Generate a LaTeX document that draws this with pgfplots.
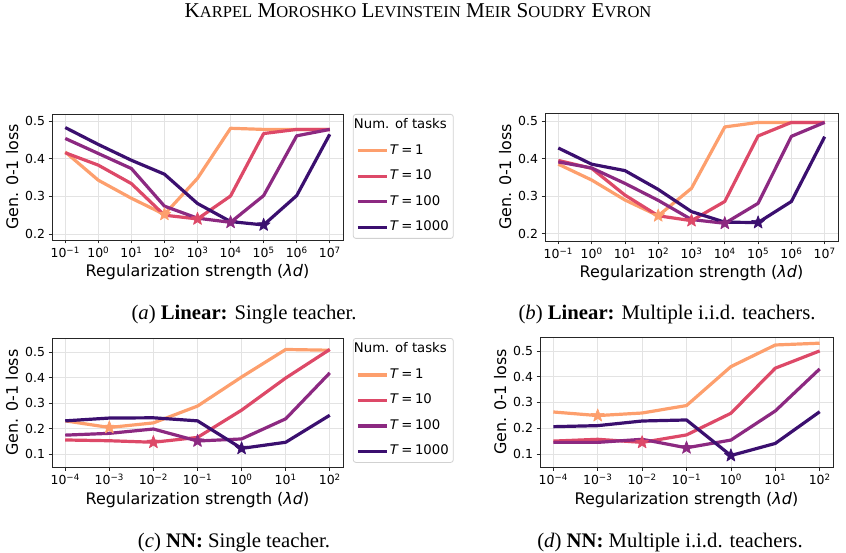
\documentclass[border=0pt]{standalone}
\usepackage{fontspec}
\setmainfont{DejaVu Sans}
\newfontfamily\capfont{Liberation Serif}
\usepackage{pgfplots}
\usepackage{pgfplotstable}
\pgfplotsset{compat=1.18}

% magma palette, light to dark
\definecolor{mT1}{RGB}{253,159,109}
\definecolor{mT10}{RGB}{221,73,104}
\definecolor{mT100}{RGB}{140,41,129}
\definecolor{mT1000}{RGB}{59,15,111}

% filled five-pointed star marking the best regularization strength
\pgfdeclareplotmark{fstar}{%
  \pgfpathmoveto{\pgfpointpolar{90}{\pgfplotmarksize}}%
  \pgfpathlineto{\pgfpointpolar{126}{0.42\pgfplotmarksize}}%
  \pgfpathlineto{\pgfpointpolar{162}{\pgfplotmarksize}}%
  \pgfpathlineto{\pgfpointpolar{198}{0.42\pgfplotmarksize}}%
  \pgfpathlineto{\pgfpointpolar{234}{\pgfplotmarksize}}%
  \pgfpathlineto{\pgfpointpolar{270}{0.42\pgfplotmarksize}}%
  \pgfpathlineto{\pgfpointpolar{306}{\pgfplotmarksize}}%
  \pgfpathlineto{\pgfpointpolar{342}{0.42\pgfplotmarksize}}%
  \pgfpathlineto{\pgfpointpolar{18}{\pgfplotmarksize}}%
  \pgfpathlineto{\pgfpointpolar{54}{0.42\pgfplotmarksize}}%
  \pgfpathclose
  \pgfusepathqfillstroke
}

% Linear, single teacher
\pgfplotstableread{
x    t1    t10   t100  t1000
1e-1 0.418 0.416 0.454 0.483
1e0  0.343 0.383 0.414 0.438
1e1  0.295 0.334 0.374 0.396
1e2  0.252 0.250 0.274 0.359
1e3  0.348 0.240 0.242 0.281
1e4  0.481 0.301 0.231 0.233
1e5  0.478 0.467 0.302 0.224
1e6  0.478 0.478 0.461 0.302
1e7  0.478 0.478 0.478 0.465
}\tabA
% Linear, multiple i.i.d. teachers
\pgfplotstableread{
x    t1    t10   t100  t1000
1e-1 0.385 0.395 0.391 0.428
1e0  0.343 0.374 0.375 0.385
1e1  0.290 0.303 0.334 0.368
1e2  0.248 0.248 0.289 0.318
1e3  0.321 0.235 0.238 0.259
1e4  0.484 0.286 0.228 0.231
1e5  0.496 0.460 0.281 0.230
1e6  0.496 0.496 0.459 0.286
1e7  0.496 0.496 0.496 0.458
}\tabB
% NN, single teacher
\pgfplotstableread{
x    t1    t10   t100  t1000
1e-4 0.230 0.155 0.174 0.230
1e-3 0.204 0.152 0.181 0.241
1e-2 0.222 0.146 0.198 0.242
1e-1 0.288 0.165 0.151 0.230
1e0  0.402 0.272 0.159 0.122
1e1  0.510 0.398 0.238 0.146
1e2  0.507 0.510 0.418 0.252
}\tabC
% NN, multiple i.i.d. teachers
\pgfplotstableread{
x    t1    t10   t100  t1000
1e-4 0.263 0.150 0.145 0.206
1e-3 0.249 0.157 0.145 0.210
1e-2 0.259 0.145 0.157 0.228
1e-1 0.288 0.174 0.124 0.232
1e0  0.439 0.258 0.154 0.094
1e1  0.523 0.433 0.267 0.141
1e2  0.530 0.500 0.430 0.264
}\tabD

% shared look of the four panels
\pgfplotsset{
  every axis/.append style={
    scale only axis,
    grid=major,
    major grid style={draw=black!11, line width=0.8bp},
    axis line style={draw=black!85, line width=0.9bp},
    tick align=outside, xtick pos=lower, ytick pos=left,
    major tick length=3.5bp,
    tick style={draw=black!85, line width=0.8bp},
    tick label style={font=\fontsize{12.5}{14}\selectfont},
    label style={font=\fontsize{16}{19}\selectfont},
    xlabel style={at={([yshift=-37bp]axis description cs:0.5,0)}, anchor=base},
    ylabel style={at={([xshift=-34bp]axis description cs:0,0.5)}, anchor=base},
    legend style={
      at={(1.034,1)}, anchor=north west,
      draw=black!18, rounded corners=2.5bp, line width=0.8bp,
      font=\fontsize{13.3}{15}\selectfont,
      inner sep=3bp, row sep=9.5bp,
      nodes={inner sep=1.5bp, text height=10bp, text depth=3bp},
    },
    legend cell align=left,
  },
  every axis plot/.append style={line width=3.2bp, line join=round},
  legend image code/.code={\draw[#1, line width=3.2bp] (0bp,0bp) -- (29bp,0bp);},
}

\newcommand\hsc[2]{#1{\fontsize{16.6}{18}\selectfont #2}}
\newcommand\Tent[1]{\textit{T}\kern2.5bp=\kern2.5bp#1}

\begin{document}
\begin{tikzpicture}
\useasboundingbox (0bp,0bp) rectangle (846bp,553bp);

% running head
\node[anchor=base, font=\capfont\fontsize{21.2}{24}\selectfont] at (418bp,535bp)
  {\hsc{K}{ARPEL} \hsc{M}{OROSHKO} \hsc{L}{EVINSTEIN} \hsc{M}{EIR} \hsc{S}{OUDRY} \hsc{E}{VRON}};

% (a) linear model, single teacher
\begin{axis}[at={(52bp,313bp)}, anchor=south west,
  width=291bp, height=126bp,
  xmode=log, xminorticks=false,
  xmin=0.0398, xmax=2.512e7, ymin=0.184, ymax=0.519,
  xtick={1e-1,1e0,1e1,1e2,1e3,1e4,1e5,1e6,1e7},
  xticklabels={10\textsuperscript{−1},10\textsuperscript{0},10\textsuperscript{1},10\textsuperscript{2},10\textsuperscript{3},10\textsuperscript{4},10\textsuperscript{5},10\textsuperscript{6},10\textsuperscript{7}},
  ytick={0.2,0.3,0.4,0.5}, yticklabels={0.2,0.3,0.4,0.5},
  xlabel={Regularization strength (\textit{λd})}, ylabel={Gen. 0-1 loss}]
  \addlegendimage{empty legend}
  \addlegendentry{\hspace*{-36bp}Num. of tasks}
  \addplot[mT1] table[x=x,y=t1]{\tabA};       \addlegendentry{\Tent{1}}
  \addplot[mT10] table[x=x,y=t10]{\tabA};     \addlegendentry{\Tent{10}}
  \addplot[mT100] table[x=x,y=t100]{\tabA};   \addlegendentry{\Tent{100}}
  \addplot[mT1000] table[x=x,y=t1000]{\tabA}; \addlegendentry{\Tent{1000}}
  \addplot[forget plot, only marks, mark=fstar, mark size=6.8bp, mT1, mark options={line width=0.6bp}] coordinates {(1e2,0.252)};
  \addplot[forget plot, only marks, mark=fstar, mark size=6.8bp, mT10, mark options={line width=0.6bp}] coordinates {(1e3,0.240)};
  \addplot[forget plot, only marks, mark=fstar, mark size=6.8bp, mT100, mark options={line width=0.6bp}] coordinates {(1e4,0.231)};
  \addplot[forget plot, only marks, mark=fstar, mark size=6.8bp, mT1000, mark options={line width=0.6bp}] coordinates {(1e5,0.224)};
\end{axis}

% (b) linear model, multiple i.i.d. teachers
\begin{axis}[at={(545bp,312bp)}, anchor=south west,
  width=293bp, height=128bp,
  xmode=log, xminorticks=false,
  xmin=0.0398, xmax=2.512e7, ymin=0.181, ymax=0.521,
  xtick={1e-1,1e0,1e1,1e2,1e3,1e4,1e5,1e6,1e7},
  xticklabels={10\textsuperscript{−1},10\textsuperscript{0},10\textsuperscript{1},10\textsuperscript{2},10\textsuperscript{3},10\textsuperscript{4},10\textsuperscript{5},10\textsuperscript{6},10\textsuperscript{7}},
  ytick={0.2,0.3,0.4,0.5}, yticklabels={0.2,0.3,0.4,0.5},
  xlabel={Regularization strength (\textit{λd})}, ylabel={Gen. 0-1 loss}]
  \addplot[mT1] table[x=x,y=t1]{\tabB};
  \addplot[mT10] table[x=x,y=t10]{\tabB};
  \addplot[mT100] table[x=x,y=t100]{\tabB};
  \addplot[mT1000] table[x=x,y=t1000]{\tabB};
  \addplot[forget plot, only marks, mark=fstar, mark size=6.8bp, mT1, mark options={line width=0.6bp}] coordinates {(1e2,0.248)};
  \addplot[forget plot, only marks, mark=fstar, mark size=6.8bp, mT10, mark options={line width=0.6bp}] coordinates {(1e3,0.235)};
  \addplot[forget plot, only marks, mark=fstar, mark size=6.8bp, mT100, mark options={line width=0.6bp}] coordinates {(1e4,0.228)};
  \addplot[forget plot, only marks, mark=fstar, mark size=6.8bp, mT1000, mark options={line width=0.6bp}] coordinates {(1e5,0.230)};
\end{axis}

% (c) neural network, single teacher
\begin{axis}[at={(52bp,86bp)}, anchor=south west,
  width=291bp, height=129bp,
  xmode=log, xminorticks=false,
  xmin=5.012e-5, xmax=199.5, ymin=0.049, ymax=0.555,
  xtick={1e-4,1e-3,1e-2,1e-1,1e0,1e1,1e2},
  xticklabels={10\textsuperscript{−4},10\textsuperscript{−3},10\textsuperscript{−2},10\textsuperscript{−1},10\textsuperscript{0},10\textsuperscript{1},10\textsuperscript{2}},
  ytick={0.1,0.2,0.3,0.4,0.5}, yticklabels={0.1,0.2,0.3,0.4,0.5},
  xlabel={Regularization strength (\textit{λd})}, ylabel={Gen. 0-1 loss}]
  \addlegendimage{empty legend}
  \addlegendentry{\hspace*{-36bp}Num. of tasks}
  \addplot[mT1] table[x=x,y=t1]{\tabC};       \addlegendentry{\Tent{1}}
  \addplot[mT10] table[x=x,y=t10]{\tabC};     \addlegendentry{\Tent{10}}
  \addplot[mT100] table[x=x,y=t100]{\tabC};   \addlegendentry{\Tent{100}}
  \addplot[mT1000] table[x=x,y=t1000]{\tabC}; \addlegendentry{\Tent{1000}}
  \addplot[forget plot, only marks, mark=fstar, mark size=6.8bp, mT1, mark options={line width=0.6bp}] coordinates {(1e-3,0.204)};
  \addplot[forget plot, only marks, mark=fstar, mark size=6.8bp, mT10, mark options={line width=0.6bp}] coordinates {(1e-2,0.146)};
  \addplot[forget plot, only marks, mark=fstar, mark size=6.8bp, mT100, mark options={line width=0.6bp}] coordinates {(1e-1,0.151)};
  \addplot[forget plot, only marks, mark=fstar, mark size=6.8bp, mT1000, mark options={line width=0.6bp}] coordinates {(1e0,0.122)};
\end{axis}

% (d) neural network, multiple i.i.d. teachers
\begin{axis}[at={(540bp,86bp)}, anchor=south west,
  width=293bp, height=130bp,
  xmode=log, xminorticks=false,
  xmin=5.012e-5, xmax=199.5, ymin=0.0495, ymax=0.554,
  xtick={1e-4,1e-3,1e-2,1e-1,1e0,1e1,1e2},
  xticklabels={10\textsuperscript{−4},10\textsuperscript{−3},10\textsuperscript{−2},10\textsuperscript{−1},10\textsuperscript{0},10\textsuperscript{1},10\textsuperscript{2}},
  ytick={0.1,0.2,0.3,0.4,0.5}, yticklabels={0.1,0.2,0.3,0.4,0.5},
  xlabel={Regularization strength (\textit{λd})}, ylabel={Gen. 0-1 loss}]
  \addplot[mT1] table[x=x,y=t1]{\tabD};
  \addplot[mT10] table[x=x,y=t10]{\tabD};
  \addplot[mT100] table[x=x,y=t100]{\tabD};
  \addplot[mT1000] table[x=x,y=t1000]{\tabD};
  \addplot[forget plot, only marks, mark=fstar, mark size=6.8bp, mT1, mark options={line width=0.6bp}] coordinates {(1e-3,0.249)};
  \addplot[forget plot, only marks, mark=fstar, mark size=6.8bp, mT10, mark options={line width=0.6bp}] coordinates {(1e-2,0.145)};
  \addplot[forget plot, only marks, mark=fstar, mark size=6.8bp, mT100, mark options={line width=0.6bp}] coordinates {(1e-1,0.124)};
  \addplot[forget plot, only marks, mark=fstar, mark size=6.8bp, mT1000, mark options={line width=0.6bp}] coordinates {(1e0,0.094)};
\end{axis}

% sub-captions
\begin{scope}[every node/.style={anchor=base, font=\capfont\fontsize{20.8}{24}\selectfont}]
  \node at (244bp,233bp) {(\textit{a}) \textbf{Linear:} Single teacher.};
  \node at (667bp,233bp) {(\textit{b}) \textbf{Linear:} Multiple i.i.d. teachers.};
  \node at (234bp,6bp) {(\textit{c}) \textbf{NN:} Single teacher.};
  \node at (670bp,6bp) {(\textit{d}) \textbf{NN:} Multiple i.i.d. teachers.};
\end{scope}
\end{tikzpicture}
\end{document}
